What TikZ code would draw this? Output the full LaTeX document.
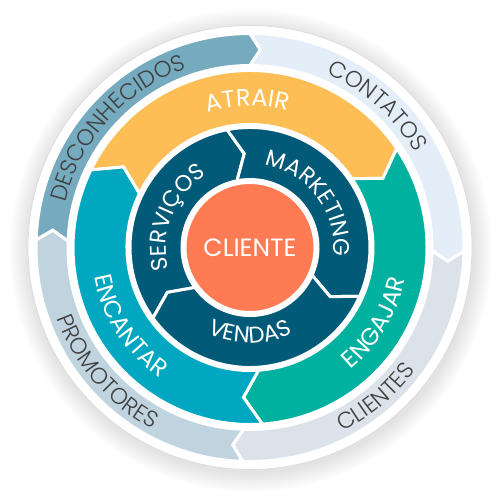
\documentclass[tikz,border=0pt]{standalone}
\usepackage{fontspec}
\usetikzlibrary{
  decorations.text,
}
\newfontfamily\fwlight{Poppins Light}
\newfontfamily\fwregular{Poppins}
\definecolor{fw_unknown}{RGB}{117,170,191}
\definecolor{fw_contacts}{RGB}{228,238,248}
\definecolor{fw_clients}{RGB}{220,226,233}
\definecolor{fw_promoters}{RGB}{192,212,223}
\definecolor{fw_attract}{RGB}{253,190,86}
\definecolor{fw_engage}{RGB}{0,177,160}
\definecolor{fw_delight}{RGB}{0,167,192}
\definecolor{fw_core}{RGB}{1,90,120}
\definecolor{fw_customer}{RGB}{255,123,83}
\definecolor{fw_text}{RGB}{64,64,64}
\newcommand\fwouter{\fwlight\fontsize{11.4}{12}\selectfont}
\newcommand\fwmiddle{\fwregular\fontsize{12}{13}\selectfont}
\newcommand\fwinner{\fwregular\fontsize{11.4}{12}\selectfont}
\tikzset{
  segment/.style={draw=white, line width=1.5pt},
  ring text/.style={decorate, decoration={text along path, text align=center, text color=#1}},
}

\begin{document}
\begin{tikzpicture}[x=0.5pt, y=0.5pt]
    \useasboundingbox (-250,-252.5) rectangle (250,247.5);
    \fill[white] (-250,-252.5) rectangle (250,247.5);

    % soft shadow round the disc
    \foreach \k in {1,...,14} {
      \fill[black, opacity=0.007] (1,-3) circle[radius={222+\k*1.4}];
    }
    % white disc
    \draw[fill=white, draw=black!15, line width=0.3pt] (0,0) circle[radius=222];

    % outer ring: from, to, colour
    \foreach \from/\to/\col in {178/90/fw_unknown, 90/-1/fw_contacts, -1/-92/fw_clients, -92/-182/fw_promoters} {
      \draw[segment, fill=\col] (\from:214) arc[start angle=\from, end angle=\to, radius=214]
        -- ({\to-3}:198) -- (\to:182) arc[start angle=\to, end angle=\from, radius=182]
        -- ({\from-3}:198) -- cycle;
    }

    % middle ring
    \foreach \from/\to/\col in {154/34/fw_attract, 34/-86/fw_engage, -86/-206/fw_delight} {
      \draw[segment, fill=\col] (\from:177) arc[start angle=\from, end angle=\to, radius=177]
        -- ({\to-6.5}:150) -- (\to:123) arc[start angle=\to, end angle=\from, radius=123]
        -- ({\from-6.5}:150) -- cycle;
    }

    % inner ring
    \foreach \from/\to in {216/101, 101/-24, -24/-144} {
      \draw[segment, fill=fw_core] (\from:120) arc[start angle=\from, end angle=\to, radius=120]
        -- ({\to-7.5}:94) -- (\to:68) arc[start angle=\to, end angle=\from, radius=68]
        -- ({\from-7.5}:94) -- cycle;
    }

    % the customer in the middle
    \draw[segment, fill=fw_customer] (0,0) circle[radius=65];
    \node[text=white, font=\fwregular\fontsize{12.5}{13}\selectfont] (cliente) at (0,0) {CLIENTE};

    % outer labels
    \path[ring text=fw_text, decoration={text={|\fwouter|DESCONHECIDOS}}]
      (218:190) arc[start angle=218, end angle=58, radius=190];
    \path[ring text=fw_text, decoration={text={|\fwouter|CONTATOS}}]
      (128:190) arc[start angle=128, end angle=-32, radius=190];
    \path[ring text=fw_text, decoration={text={|\fwouter|CLIENTES}}]
      (-130:206) arc[start angle=-130, end angle=30, radius=206];
    \path[ring text=fw_text, decoration={text={|\fwouter|PROMOTORES}}]
      (141:206) arc[start angle=141, end angle=301, radius=206];

    % middle labels
    \path[ring text=white, decoration={text={|\fwmiddle|ATRAIR}}]
      (171:141.6) arc[start angle=171, end angle=11, radius=141.6];
    \path[ring text=white, decoration={text={|\fwmiddle|ENGAJAR}}]
      (-111:158.4) arc[start angle=-111, end angle=49, radius=158.4];
    \path[ring text=white, decoration={text={|\fwmiddle|ENCANTAR}}]
      (133:158.4) arc[start angle=133, end angle=293, radius=158.4];

    % inner labels
    \path[ring text=white, decoration={text={|\fwinner|SERVIÇOS}}]
      (238:84) arc[start angle=238, end angle=78, radius=84];
    \path[ring text=white, decoration={text={|\fwinner|MARKETING}}]
      (117:84) arc[start angle=117, end angle=-43, radius=84];
    \path[ring text=white, decoration={text={|\fwinner|VENDAS}}]
      (190:95.5) arc[start angle=190, end angle=350, radius=95.5];
\end{tikzpicture}
\end{document}
